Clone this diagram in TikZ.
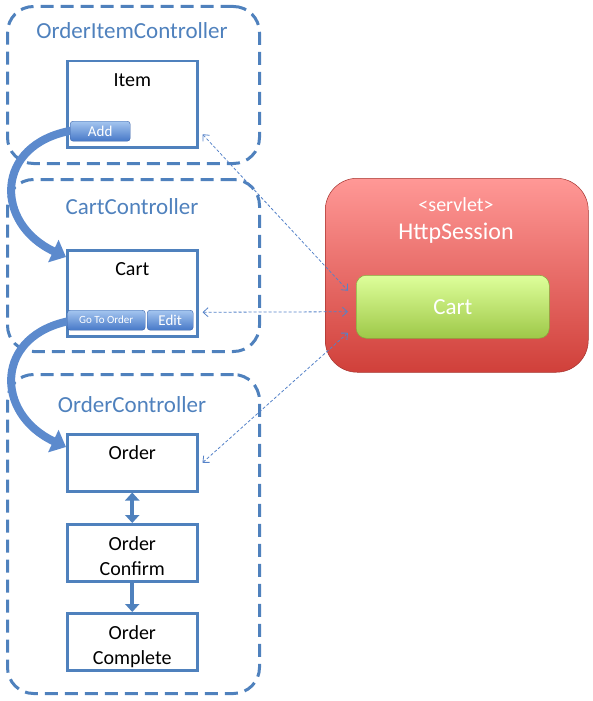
\documentclass[tikz,border=0pt]{standalone}
\usepackage{fontspec}
\setmainfont{Carlito}
\usetikzlibrary{arrows.meta,positioning}
\definecolor{ctlblue}{RGB}{79,129,189}
\definecolor{btntop}{RGB}{165,198,240}
\definecolor{btnbot}{RGB}{70,120,200}
\definecolor{btnedge}{RGB}{60,100,170}
\definecolor{flowblue}{RGB}{92,138,205}
\definecolor{linkblue}{RGB}{85,130,200}
\definecolor{sesstop}{RGB}{255,152,150}
\definecolor{sessbot}{RGB}{208,64,58}
\definecolor{carttop}{RGB}{222,255,155}
\definecolor{cartbot}{RGB}{158,200,72}
\tikzset{
  ctlbox/.style={
    draw=ctlblue, line width=3pt, dash pattern=on 13pt off 7pt,
    rounded corners=26pt, minimum width=252pt, anchor=north west
  },
  ctltitle/.style={text=ctlblue, font=\fontsize{23}{25}\selectfont},
  page/.style={
    draw=ctlblue, line width=2.5pt, fill=white, anchor=north west,
    minimum width=130pt, inner ysep=5pt, align=center,
    font=\fontsize{20}{25}\selectfont
  },
  tallpage/.style={page, text height=20pt, text depth=56pt},
  shortpage/.style={page, text height=20pt, text depth=27pt},
  twolinepage/.style={page, text height=46pt, text depth=1pt},
  btn/.style={
    draw=btnedge, rounded corners=3pt, top color=btntop, bottom color=btnbot,
    text=white, anchor=north west, inner sep=0pt, minimum height=20pt
  },
  flow/.style={
    draw=flowblue, line width=8pt, looseness=1.6,
    -{Triangle[length=14pt,width=24pt]}
  },
  stepline/.style={draw=ctlblue, line width=4pt},
  steptip/.style={-{Triangle[length=8pt,width=14pt]}},
  link/.style={
    draw=linkblue, line width=0.8pt, dash pattern=on 3pt off 2pt,
    {Straight Barb[length=5pt,width=9pt]}-{Straight Barb[length=5pt,width=9pt]}
  },
  sessbox/.style={
    rounded corners=32pt, top color=sesstop, bottom color=sessbot,
    draw=sessbot!80!black, line width=0.5pt, anchor=north west,
    minimum width=263pt, minimum height=194pt
  },
  sesscart/.style={
    rounded corners=10pt, top color=carttop, bottom color=cartbot,
    draw=cartbot!85!black, line width=0.5pt, anchor=north west,
    minimum width=193pt, minimum height=63pt, text=white,
    font=\fontsize{23}{25}\selectfont
  },
  sesstext/.style={text=white}
}

\begin{document}
\begin{tikzpicture}[x=1pt, y=-1pt]
  \useasboundingbox (0,0) rectangle (593,701);

  % the controllers
  \foreach \name/\top/\h/\ty/\title in {
      itemctl/5/157/31/OrderItemController,
      cartctl/178/172/207/CartController,
      orderctl/373/319/405/OrderController}
  {
    \node[ctlbox, minimum height=\h pt] (\name) at (6,\top) {};
    \node[ctltitle] (\name-title) at (132,\ty) {\title};
  }

  % the pages
  \node[tallpage] (item) at (66,60) {Item};
  \node[tallpage] (cart) at (66,249) {Cart};
  \node[shortpage] (order) at (66,433) {Order};
  \node[twolinepage] (confirm) at (66,523) {Order\\Confirm};
  \node[twolinepage] (complete) at (66,612) {Order\\Complete};

  % page flow
  \draw[flow] ([xshift=6pt,yshift=18pt]item.south west) to[out=190,in=155]
    ([yshift=-8pt]cart.north west);
  \draw[flow] ([xshift=6pt,yshift=17pt]cart.south west) to[out=190,in=155]
    ([yshift=-14pt]order.north west);
  \draw[stepline, {Triangle[length=8pt,width=14pt]}-{Triangle[length=8pt,width=14pt]}]
    (order) -- (confirm);
  \draw[stepline, steptip] (confirm) -- (complete);

  % the buttons
  \node[btn, minimum width=60pt, font=\fontsize{15}{16}\selectfont] (add) at (70,121) {Add};
  \node[btn, minimum width=78pt, font=\fontsize{11}{12}\selectfont] (goto) at (67,310) {Go To Order};
  \node[btn, minimum width=46pt, font=\fontsize{15}{16}\selectfont] (edit) at (147,310) {Edit};

  % the session
  \node[sessbox] (session) at (325,178) {};
  \node[sesstext, font=\fontsize{20}{22}\selectfont] (servlet) at (456,205) {<servlet>};
  \node[sesstext, font=\fontsize{24}{26}\selectfont] (httpsession) at (456,233) {HttpSession};
  \node[sesscart] (sesscart) at (356,275) {Cart};

  % session links
  \draw[link] ([xshift=4pt,yshift=-30pt]item.east) -- ([xshift=-8pt,yshift=16pt]sesscart.west);
  \draw[link] ([xshift=4pt,yshift=-19pt]cart.east) -- ([xshift=-8pt,yshift=-5pt]sesscart.west);
  \draw[link] ([xshift=4pt]order.east) -- ([xshift=-8pt,yshift=-26pt]sesscart.west);
\end{tikzpicture}
\end{document}
